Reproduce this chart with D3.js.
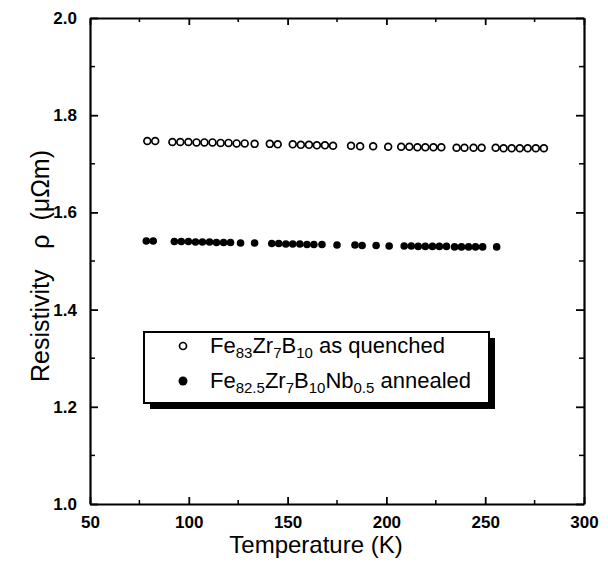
<!DOCTYPE html>
<html>
<head>
<meta charset="utf-8">
<script src="https://cdn.jsdelivr.net/npm/d3@7"></script>
<style>
  body { margin: 0; background: #fff; }
  svg { font-family: "Liberation Sans", Arial, sans-serif; }
</style>
</head>
<body>
<div class="chart"></div>
<script>

/** Data */
let quenchedT = [79, 83, 91.7, 95.7, 99.8, 103.9, 107.9, 112, 116.1, 120.1, 124.2, 128.3, 133.3,
                 141, 145, 152.6, 156.7, 160.8, 164.8, 168.9, 173, 182.1, 186.7, 193.3, 200.9,
                 207.5, 211.6, 215.7, 219.7, 223.8, 227.8, 235.5, 239.5, 244.1, 248.2,
                 255.3, 259.3, 263.4, 267.5, 271.5, 275.6, 279.7];
let quenchedRho = [1.747, 1.747, 1.745, 1.745, 1.745, 1.744, 1.744, 1.744, 1.743, 1.743, 1.742, 1.742, 1.741,
                   1.741, 1.740, 1.740, 1.739, 1.739, 1.738, 1.738, 1.737, 1.737, 1.736, 1.736, 1.735,
                   1.735, 1.735, 1.734, 1.734, 1.734, 1.734, 1.733, 1.733, 1.733, 1.733,
                   1.733, 1.732, 1.732, 1.732, 1.732, 1.732, 1.732];

let annealedT = [78.5, 82, 92.7, 96.2, 99.8, 103.4, 106.9, 110.5, 114, 117.6, 121.1, 126.2, 133.3,
                 142, 145.5, 149.1, 152.6, 156.2, 159.8, 163.3, 167.4, 175, 184.1, 187.7, 194.8,
                 201.4, 209, 212.6, 216.1, 219.7, 223.3, 226.8, 230.4, 234.5, 238, 241.6, 245.1, 248.7, 255.8];
let annealedRho = [1.541, 1.541, 1.540, 1.540, 1.540, 1.539, 1.539, 1.539, 1.538, 1.538, 1.538, 1.537, 1.537,
                   1.536, 1.536, 1.535, 1.535, 1.535, 1.534, 1.534, 1.534, 1.533, 1.533, 1.532, 1.532,
                   1.531, 1.531, 1.531, 1.530, 1.530, 1.530, 1.530, 1.530, 1.529, 1.529, 1.529, 1.529, 1.529, 1.529];

let xTicks = [50, 100, 150, 200, 250, 300];
let xMinor = [75, 125, 175, 225, 275];
let yTicks = [1.0, 1.2, 1.4, 1.6, 1.8, 2.0];
let yMinor = [1.1, 1.3, 1.5, 1.7, 1.9];

let legendLabels = [
    [['Fe', 0], ['83', 1], ['Zr', 0], ['7', 1], ['B', 0], ['10', 1], [' as quenched', 0]],
    [['Fe', 0], ['82.5', 1], ['Zr', 0], ['7', 1], ['B', 0], ['10', 1], ['Nb', 0], ['0.5', 1], [' annealed', 0]]
];

/** Set up canvas */
let width = 608, height = 571;
let plot = { left: 90, right: 584, top: 18, bottom: 504 };

let svg = d3.select('.chart').append('svg')
    .attr('width', width)
    .attr('height', height);

let xScale = d3.scaleLinear().domain([50, 300]).range([plot.left, plot.right]);
let yScale = d3.scaleLinear().domain([1.0, 2.0]).range([plot.bottom, plot.top]);

/** axes: ticks point inward, mirrored on top and right */
let bottomAxis = svg.append('g')
    .attr('transform', `translate(0, ${plot.bottom})`)
    .call(d3.axisBottom(xScale).tickValues(xTicks).tickSizeInner(-7).tickSizeOuter(0).tickPadding(12));
bottomAxis.append('g').selectAll('line')
    .data(xMinor).enter().append('line')
    .attr('x1', d => xScale(d)).attr('x2', d => xScale(d))
    .attr('y1', 0).attr('y2', -4)
    .attr('stroke', '#000').attr('stroke-width', 1.5);

let topAxis = svg.append('g')
    .attr('transform', `translate(0, ${plot.top})`)
    .call(d3.axisTop(xScale).tickValues(xTicks).tickSizeInner(-7).tickSizeOuter(0).tickFormat(''));
topAxis.append('g').selectAll('line')
    .data(xMinor).enter().append('line')
    .attr('x1', d => xScale(d)).attr('x2', d => xScale(d))
    .attr('y1', 0).attr('y2', 4)
    .attr('stroke', '#000').attr('stroke-width', 1.5);

let leftAxis = svg.append('g')
    .attr('transform', `translate(${plot.left}, 0)`)
    .call(d3.axisLeft(yScale).tickValues(yTicks).tickSizeInner(-8).tickSizeOuter(0).tickPadding(13)
              .tickFormat(d3.format('.1f')));
leftAxis.append('g').selectAll('line')
    .data(yMinor).enter().append('line')
    .attr('y1', d => yScale(d)).attr('y2', d => yScale(d))
    .attr('x1', 0).attr('x2', 5)
    .attr('stroke', '#000').attr('stroke-width', 1.5);

let rightAxis = svg.append('g')
    .attr('transform', `translate(${plot.right}, 0)`)
    .call(d3.axisRight(yScale).tickValues(yTicks).tickSizeInner(-8).tickSizeOuter(0).tickFormat(''));
rightAxis.append('g').selectAll('line')
    .data(yMinor).enter().append('line')
    .attr('y1', d => yScale(d)).attr('y2', d => yScale(d))
    .attr('x1', 0).attr('x2', -5)
    .attr('stroke', '#000').attr('stroke-width', 1.5);

svg.selectAll('.domain').attr('stroke', '#000').attr('stroke-width', 2.2);
svg.selectAll('.tick line').attr('stroke', '#000').attr('stroke-width', 1.8);
svg.selectAll('.tick text')
    .attr('fill', '#000')
    .style('font-size', '17px')
    .style('font-weight', 'bold');

/** axis titles */
svg.append('text')
    .attr('x', 316)
    .attr('y', 553)
    .attr('text-anchor', 'middle')
    .style('font-size', '24px')
    .text('Temperature (K)');

svg.append('text')
    .attr('transform', 'translate(49, 266) rotate(-90)')
    .attr('text-anchor', 'middle')
    .style('font-size', '25px')
    .style('white-space', 'pre')
    .text('Resistivity   \u03c1  (\u03bc\u03a9m)');

/** data points */
let quenched = quenchedT.map((t, i) => ({ t: t, rho: quenchedRho[i] }));
let annealed = annealedT.map((t, i) => ({ t: t, rho: annealedRho[i] }));

svg.append('g').selectAll('circle')
    .data(quenched).enter().append('circle')
    .attr('cx', d => xScale(d.t))
    .attr('cy', d => yScale(d.rho))
    .attr('r', 3.4)
    .attr('fill', 'none')
    .attr('stroke', '#000')
    .attr('stroke-width', 1.7);

svg.append('g').selectAll('circle')
    .data(annealed).enter().append('circle')
    .attr('cx', d => xScale(d.t))
    .attr('cy', d => yScale(d.rho))
    .attr('r', 3.8)
    .attr('fill', '#000');

/** legend with drop shadow */
let legend = svg.append('g');
legend.append('rect')
    .attr('x', 150).attr('y', 338)
    .attr('width', 345).attr('height', 71)
    .attr('fill', '#000');
legend.append('rect')
    .attr('x', 144).attr('y', 332)
    .attr('width', 345).attr('height', 71)
    .attr('fill', '#fff')
    .attr('stroke', '#000')
    .attr('stroke-width', 2);

legend.append('circle')
    .attr('cx', 183).attr('cy', 346).attr('r', 3.5)
    .attr('fill', 'none').attr('stroke', '#000').attr('stroke-width', 1.7);
legend.append('circle')
    .attr('cx', 183).attr('cy', 381).attr('r', 4.5)
    .attr('fill', '#000');

legendLabels.forEach(function (parts, k) {
    let txt = legend.append('text')
        .attr('x', 210).attr('y', k === 0 ? 353 : 388)
        .style('font-size', '22px');
    let down = false;
    parts.forEach(function (p) {
        let span = txt.append('tspan').text(p[0]);
        if (p[1] && !down) { span.attr('dy', 5); down = true; }
        else if (!p[1] && down) { span.attr('dy', -5); down = false; }
        if (p[1]) span.style('font-size', '15px');
    });
});

</script>
</body>
</html>
